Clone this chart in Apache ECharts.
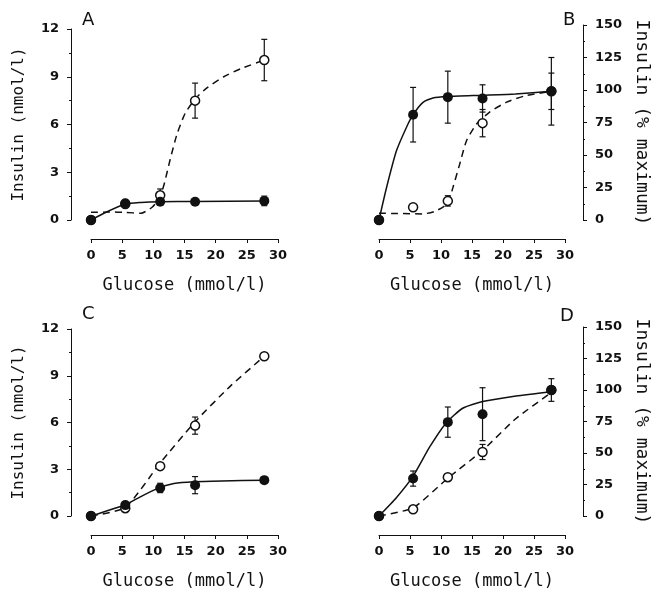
<!DOCTYPE html>
<html>
<head>
<meta charset="utf-8">
<script src="https://cdn.jsdelivr.net/npm/echarts@6/dist/echarts.min.js"></script>
<style>
  html, body { margin: 0; padding: 0; background: #fff; }
  #chart { width: 652px; height: 591px; }
</style>
</head>
<body>
<div id="chart"></div>
<script>
// glucose concentrations (mmol/l) of the measured points
const glucose = [0, 5.5, 11.1, 16.7, 27.8];

// panel A, insulin nmol/l
const filledA = [0, 1.05, 1.15, 1.15, 1.2];
const filledAErr = [0, 0.1, 0.1, 0.1, 0.3];
const openA = [0, 1.0, 1.55, 7.5, 10.05];
const openAErr = [0, 0, 0.4, 1.1, 1.3];
const solidAx = [0, 2.5, 5.5, 8, 11.1, 16.7, 27.8];
const solidAy = [0, 0.5, 1.0, 1.1, 1.15, 1.17, 1.2];
const dashAx = [0, 3, 5.5, 8, 9.8, 11, 11.7, 12.7, 13.8, 15.1, 16.7, 18.6, 21.3, 24, 27.8];
const dashAy = [0.48, 0.5, 0.48, 0.42, 0.8, 1.4, 2.2, 3.8, 5.4, 6.7, 7.6, 8.3, 9.0, 9.5, 10.05];

// panel B, insulin % maximum
const filledB = [0, 81, 94.5, 93.5, 99];
const filledBErr = [0, 21, 20, 10.5, 26];
const openB = [0, 9.8, 14.7, 74.5, 99];
const openBErr = [0, 0, 4, 10.5, 14];
const solidBx = [0, 1.2, 2.8, 4.4, 5.5, 7.1, 8.7, 11.1, 16.7, 22, 27.8];
const solidBy = [0, 24.6, 53, 71, 81, 90.5, 93.9, 95, 96, 97, 99];
const dashBx = [0, 3, 7.1, 9.2, 11.1, 11.9, 13, 14.1, 15.7, 17.8, 20.5, 23.7, 27.8];
const dashBy = [5.2, 5, 4.7, 7, 13, 24.6, 42.7, 60.8, 73.7, 82.8, 90.5, 95.7, 99];

// panel C, insulin nmol/l
const filledC = [0, 0.7, 1.8, 1.98, 2.3];
const filledCErr = [0, 0.1, 0.3, 0.55, 0.15];
const openC = [0, 0.5, 3.2, 5.8, 10.25];
const openCErr = [0, 0, 0.15, 0.55, 0.2];
const solidCx = [0, 5.5, 7.9, 10.6, 13.3, 16.5, 21, 27.8];
const solidCy = [0, 0.72, 1.23, 1.76, 2.08, 2.2, 2.25, 2.29];
const dashCx = [0, 5.5, 11.1, 16.7, 22.4, 27.8];
const dashCy = [0, 0.55, 3.4, 6.05, 8.35, 10.25];

// panel D, insulin % maximum
const filledD = [0, 29.7, 74.5, 80.8, 100];
const filledDErr = [0, 6, 12, 21, 9];
const openD = [0, 5.3, 30.8, 50.8, 100];
const openDErr = [0, 0, 0, 6, 0];
const solidDx = [0, 2.8, 5.5, 8.2, 10.8, 13.5, 16.7, 22.1, 27.8];
const solidDy = [0, 14.5, 31.6, 55, 73.7, 85.5, 90.8, 95.3, 98.7];
const dashDx = [0, 5.5, 11.1, 16.7, 22, 27.8];
const dashDy = [0, 6.5, 30, 52, 77, 98];

const panelLetters = ['A', 'B', 'C', 'D'];
const xTitle = 'Glucose (mmol/l)';
const yTitleLeft = 'Insulin (nmol/l)';
const yTitleRight = 'Insulin (% maximum)';

const INK = '#111';
const MONO = '"DejaVu Sans Mono", monospace';
const SANS = '"DejaVu Sans", sans-serif';

let chart = echarts.init(document.getElementById('chart'));

function pairs(xs, ys) {
    return xs.map((x, i) => [x, ys[i]]);
}

function withErr(ys, errs) {
    return glucose.map((x, i) => [x, ys[i], errs[i]]);
}

function errorBarRender(params, api) {
    let x = api.value(0), y = api.value(1), e = api.value(2);
    if (!e) return;
    let top = api.coord([x, y + e]);
    let bot = api.coord([x, y - e]);
    let hw = 3;
    let style = { stroke: INK, lineWidth: 1.2 };
    return {
        type: 'group',
        children: [
            { type: 'line', shape: { x1: top[0], y1: top[1], x2: bot[0], y2: bot[1] }, style: style },
            { type: 'line', shape: { x1: top[0] - hw, y1: top[1], x2: top[0] + hw, y2: top[1] }, style: style },
            { type: 'line', shape: { x1: bot[0] - hw, y1: bot[1], x2: bot[0] + hw, y2: bot[1] }, style: style }
        ]
    };
}

const panels = [
    { filled: filledA, filledErr: filledAErr, open: openA, openErr: openAErr,
      solid: pairs(solidAx, solidAy), dash: pairs(dashAx, dashAy) },
    { filled: filledB, filledErr: filledBErr, open: openB, openErr: openBErr,
      solid: pairs(solidBx, solidBy), dash: pairs(dashBx, dashBy) },
    { filled: filledC, filledErr: filledCErr, open: openC, openErr: openCErr,
      solid: pairs(solidCx, solidCy), dash: pairs(dashCx, dashCy) },
    { filled: filledD, filledErr: filledDErr, open: openD, openErr: openDErr,
      solid: pairs(solidDx, solidDy), dash: pairs(dashDx, dashDy) }
];

const grids = [
    { left: 91, top: 29, width: 187, height: 191 },
    { left: 379, top: 25, width: 187, height: 195 },
    { left: 91, top: 329, width: 187, height: 189 },
    { left: 379, top: 327, width: 187, height: 190 }
];

const xAxes = grids.map((g, i) => ({
    type: 'value',
    gridIndex: i,
    position: 'bottom',
    offset: 19,
    min: 0,
    max: 30,
    interval: 5,
    name: xTitle,
    nameLocation: 'middle',
    nameGap: 38,
    nameTextStyle: { color: INK, fontFamily: MONO, fontSize: 17 },
    axisLine: { show: true, onZero: false, lineStyle: { color: INK, width: 1 } },
    axisTick: { show: true, inside: false, length: 4, lineStyle: { color: INK } },
    axisLabel: { color: INK, fontFamily: SANS, fontSize: 13, fontWeight: 'bold', margin: 10 },
    splitLine: { show: false }
}));

const yAxes = grids.map((g, i) => {
    let left = i % 2 === 0;
    return {
        type: 'value',
        gridIndex: i,
        position: left ? 'left' : 'right',
        offset: left ? 20 : 18,
        min: 0,
        max: left ? 12 : 150,
        interval: left ? 3 : 25,
        name: left ? yTitleLeft : yTitleRight,
        nameLocation: 'middle',
        nameRotate: left ? 90 : -90,
        nameGap: left ? 44 : 50,
        nameTextStyle: { color: INK, fontFamily: MONO, fontSize: left ? 16 : 18 },
        axisLine: { show: true, onZero: false, lineStyle: { color: INK, width: 1 } },
        axisTick: { show: true, inside: false, length: 4, lineStyle: { color: INK } },
        minorTick: { show: true, splitNumber: 2, length: 2, lineStyle: { color: INK } },
        axisLabel: { color: INK, fontFamily: SANS, fontSize: 13, fontWeight: 'bold', margin: 12 },
        splitLine: { show: false },
        minorSplitLine: { show: false }
    };
});

let series = [];
panels.forEach((p, i) => {
    series.push({
        type: 'line', xAxisIndex: i, yAxisIndex: i, data: p.dash,
        showSymbol: false, smooth: 0.2, z: 2,
        lineStyle: { color: INK, width: 1.5, type: [7, 5] }
    });
    series.push({
        type: 'line', xAxisIndex: i, yAxisIndex: i, data: p.solid,
        showSymbol: false, smooth: 0.2, z: 2,
        lineStyle: { color: INK, width: 1.5 }
    });
    series.push({
        type: 'custom', xAxisIndex: i, yAxisIndex: i, z: 3,
        data: withErr(p.open, p.openErr), encode: { x: 0, y: 1 },
        renderItem: errorBarRender
    });
    series.push({
        type: 'custom', xAxisIndex: i, yAxisIndex: i, z: 3,
        data: withErr(p.filled, p.filledErr), encode: { x: 0, y: 1 },
        renderItem: errorBarRender
    });
    series.push({
        type: 'scatter', xAxisIndex: i, yAxisIndex: i, z: 4,
        data: pairs(glucose, p.open), symbol: 'circle', symbolSize: 9,
        itemStyle: { color: '#fff', borderColor: INK, borderWidth: 1.5, opacity: 1 }
    });
    series.push({
        type: 'scatter', xAxisIndex: i, yAxisIndex: i, z: 5,
        data: pairs(glucose, p.filled), symbol: 'circle', symbolSize: 10,
        itemStyle: { color: INK, opacity: 1 }
    });
});

const letterPos = [[82, 22], [563, 22], [82, 316], [560, 318]];

let echarts_options = {
    animation: false,
    backgroundColor: '#fff',
    grid: grids,
    xAxis: xAxes,
    yAxis: yAxes,
    series: series,
    graphic: panelLetters.map((t, i) => ({
        type: 'text',
        left: letterPos[i][0],
        top: letterPos[i][1] - 11,
        style: { text: t, fill: INK, font: '18px ' + SANS }
    }))
};

chart.setOption(echarts_options);
</script>
</body>
</html>
